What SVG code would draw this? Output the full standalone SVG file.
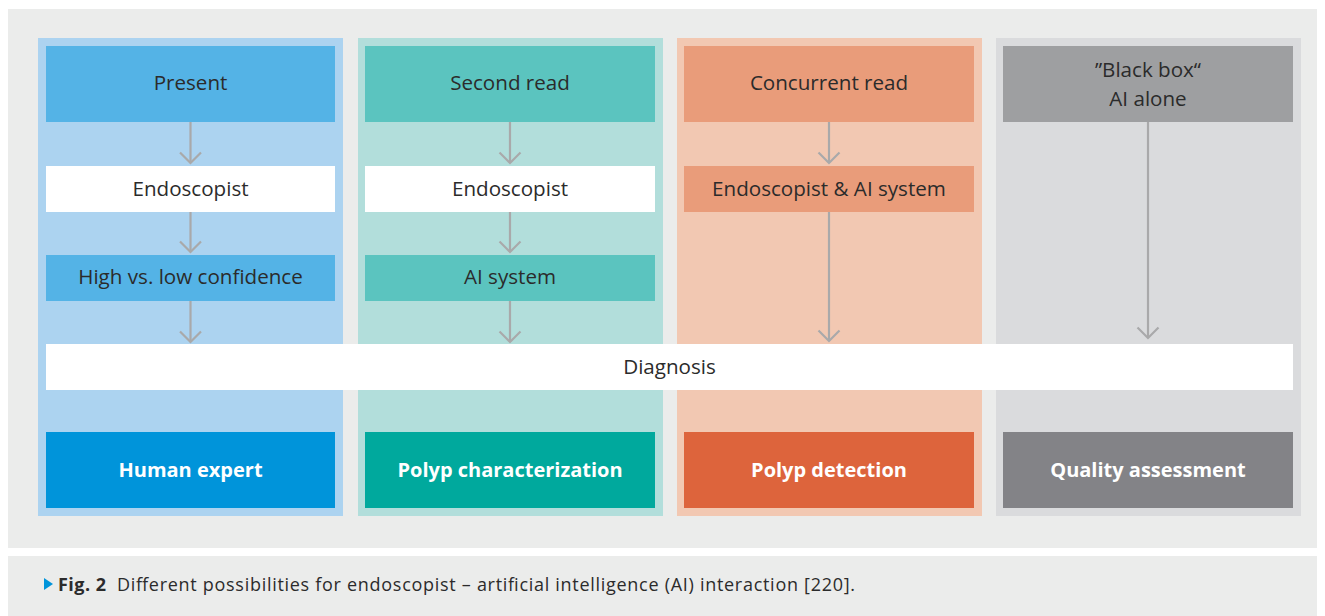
<svg xmlns="http://www.w3.org/2000/svg" width="1325" height="616" viewBox="0 0 1325 616">
<defs>
<style>
.t{font-family:"Open Sans","Liberation Sans",sans-serif;font-size:20.6px;fill:#2b2b2b;text-anchor:middle}
.b{font-family:"Open Sans","Liberation Sans",sans-serif;font-size:20px;font-weight:bold;fill:#ffffff;text-anchor:middle}
.c{font-family:"Open Sans","Liberation Sans",sans-serif;font-size:18px;fill:#2b2b2b}
.a{stroke:#a9a9aa;stroke-width:2.2;fill:none}
</style>
<marker id="ah" viewBox="0 0 14 24" refX="12" refY="12" markerWidth="14" markerHeight="24" markerUnits="userSpaceOnUse" orient="auto">
<path d="M1.5,1.5 L12,12 L1.5,22.5" fill="none" stroke="#a9a9aa" stroke-width="2.2"/>
</marker>
</defs>
<rect x="0" y="0" width="1325" height="616" fill="#ffffff"/>
<rect x="8" y="9" width="1309" height="539" fill="#ebeceb"/>
<rect x="8" y="556" width="1309" height="60" fill="#ebeceb"/>

<g id="col1">
<rect x="38" y="38" width="305" height="478" fill="#acd3f0"/>
</g>
<g id="col2">
<rect x="358" y="38" width="305" height="478" fill="#b2dedb"/>
</g>
<g id="col3">
<rect x="677" y="38" width="305" height="478" fill="#f2c8b2"/>
</g>
<g id="col4">
<rect x="996" y="38" width="305" height="478" fill="#dadbdd"/>
</g>

<g id="connectors">
<line class="a" x1="190.5" y1="122" x2="190.5" y2="163" marker-end="url(#ah)"/>
<line class="a" x1="190.5" y1="212" x2="190.5" y2="252" marker-end="url(#ah)"/>
<line class="a" x1="190.5" y1="301" x2="190.5" y2="342" marker-end="url(#ah)"/>
<line class="a" x1="510" y1="122" x2="510" y2="163" marker-end="url(#ah)"/>
<line class="a" x1="510" y1="212" x2="510" y2="252" marker-end="url(#ah)"/>
<line class="a" x1="510" y1="301" x2="510" y2="342" marker-end="url(#ah)"/>
<line class="a" x1="829" y1="122" x2="829" y2="163" marker-end="url(#ah)"/>
<line class="a" x1="829" y1="212" x2="829" y2="341" marker-end="url(#ah)"/>
<line class="a" x1="1148" y1="122" x2="1148" y2="338" marker-end="url(#ah)"/>
</g>

<g id="present">
<rect x="46" y="46" width="289" height="76" fill="#54b3e6"/>
<text class="t" x="190.5" y="90">Present</text>
</g>
<g id="endoscopist1">
<rect x="46" y="166" width="289" height="46" fill="#ffffff"/>
<text class="t" x="190.5" y="196">Endoscopist</text>
</g>
<g id="confidence">
<rect x="46" y="255" width="289" height="46" fill="#54b3e6"/>
<text class="t" x="190.5" y="284">High vs. low confidence</text>
</g>
<g id="human-expert">
<rect x="46" y="432" width="289" height="76" fill="#0094da"/>
<text class="b" x="190.5" y="477">Human expert</text>
</g>

<g id="second-read">
<rect x="365" y="46" width="290" height="76" fill="#5bc4bf"/>
<text class="t" x="510" y="90">Second read</text>
</g>
<g id="endoscopist2">
<rect x="365" y="166" width="290" height="46" fill="#ffffff"/>
<text class="t" x="510" y="196">Endoscopist</text>
</g>
<g id="ai-system">
<rect x="365" y="255" width="290" height="46" fill="#5bc4bf"/>
<text class="t" x="510" y="284">AI system</text>
</g>
<g id="polyp-char">
<rect x="365" y="432" width="290" height="76" fill="#00a99d"/>
<text class="b" x="510" y="477">Polyp characterization</text>
</g>

<g id="concurrent-read">
<rect x="684" y="46" width="290" height="76" fill="#e99c7a"/>
<text class="t" x="829" y="90">Concurrent read</text>
</g>
<g id="endo-ai">
<rect x="684" y="166" width="290" height="46" fill="#e99c7a"/>
<text class="t" x="829" y="196">Endoscopist &amp; AI system</text>
</g>
<g id="polyp-det">
<rect x="684" y="432" width="290" height="76" fill="#dd643c"/>
<text class="b" x="829" y="477">Polyp detection</text>
</g>

<g id="black-box">
<rect x="1003" y="46" width="290" height="76" fill="#9e9fa1"/>
<text class="t" x="1148" y="77">”Black box“</text>
<text class="t" x="1148" y="106">AI alone</text>
</g>
<g id="quality">
<rect x="1003" y="432" width="290" height="76" fill="#838387"/>
<text class="b" x="1148" y="477">Quality assessment</text>
</g>

<g id="diagnosis">
<rect x="46" y="344" width="1247" height="46" fill="#ffffff"/>
<text class="t" x="669.5" y="374">Diagnosis</text>
</g>

<g id="caption">
<path d="M44,578 L53,584 L44,590 Z" fill="#0094da"/>
<text class="c" x="58" y="591" font-weight="bold" textLength="48">Fig. 2</text>
<text class="c" x="117" y="591" textLength="738">Different possibilities for endoscopist – artificial intelligence (AI) interaction [220].</text>
</g>
</svg>
